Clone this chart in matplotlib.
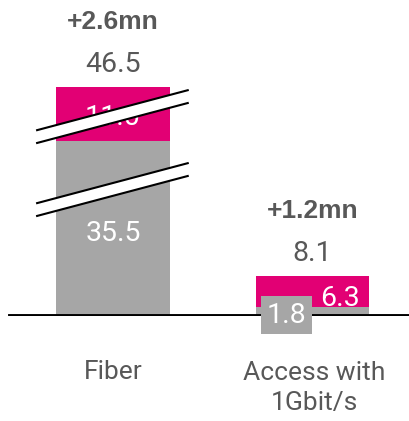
import matplotlib.pyplot as plt
from matplotlib.patches import Polygon

plt.rcParams['font.family'] = ['Roboto', 'DejaVu Sans']

categories = ['Fiber', 'Access with\n1Gbit/s']
base_vals = [35.5, 1.8]      # gray part
growth_vals = [11.0, 6.3]    # magenta part
totals = [46.5, 8.1]
deltas = ['+2.6mn', '+1.2mn']

GRAY = '#a6a6a6'
MAGENTA = '#e20074'
TXT = '#585858'

fig = plt.figure(figsize=(4.10, 4.21), dpi=100)
ax = fig.add_axes([0, 0.2494, 1, 0.7506])
ax.set_xlim(-0.566, 1.489)
ax.set_ylim(0, 64.1)
ax.axis('off')

x = [0, 1]
w = 0.57
ax.bar(x, base_vals, width=w, color=GRAY, zorder=2)
ax.bar(x, growth_vals, width=w, bottom=base_vals, color=MAGENTA, zorder=2)
ax.axhline(0, xmin=0.024, xmax=1, color='black', lw=2.8, zorder=3)

fs = 20.5
wt = 'normal'
# fiber labels
ax.text(0, base_vals[0] / 2 - 1.0, f'{base_vals[0]:.1f}', ha='center', va='center',
        color='white', fontsize=fs, fontweight=wt, zorder=4)
ax.text(0, base_vals[0] + growth_vals[0] / 2 - 0.8, f'{growth_vals[0]:.1f}', ha='center',
        va='center', color='white', fontsize=fs, fontweight=wt, zorder=4)
# access labels
ax.text(1.238, base_vals[1] + growth_vals[1] / 2 - 1.3, f'{growth_vals[1]:.1f}', ha='right',
        va='center', color='white', fontsize=fs, fontweight=wt, zorder=4)
ax.text(0.87, 0.2, f'{base_vals[1]:.1f}', ha='center', va='center', color='white',
        fontsize=fs, fontweight=wt, zorder=5,
        bbox=dict(boxstyle='square,pad=0.2', fc=GRAY, ec='none'))

for xi, tot, d in zip(x, totals, deltas):
    ax.text(xi, tot + 4.6, f'{tot:.1f}', ha='center', va='center', color=TXT,
            fontsize=fs, fontweight=wt)
    ax.text(xi, tot + 13.1, d, ha='center', va='center', color=TXT,
            fontsize=19, fontweight='bold', family='Liberation Sans')

ax.text(0, -11.4, categories[0], ha='center', va='center', color=TXT,
        fontsize=19, fontweight=wt, clip_on=False)
ax.text(1.01, -14.6, categories[1], ha='center', va='center', color=TXT,
        fontsize=19, fontweight=wt, clip_on=False, linespacing=1.35)

# axis break marks on the fiber bar
for y0 in (35.1, 20.3):
    xl, xr = -0.38, 0.375
    gap, rise = 2.6, 8.1
    band = Polygon([(xl, y0), (xr, y0 + rise), (xr, y0 + rise + gap), (xl, y0 + gap)],
                   closed=True, fc='white', ec='none', zorder=6)
    ax.add_patch(band)
    ax.plot([xl, xr], [y0, y0 + rise], color='black', lw=1.5, zorder=7)
    ax.plot([xl, xr], [y0 + gap, y0 + rise + gap], color='black', lw=1.5, zorder=7)

fig.savefig('out.png', dpi=100)
